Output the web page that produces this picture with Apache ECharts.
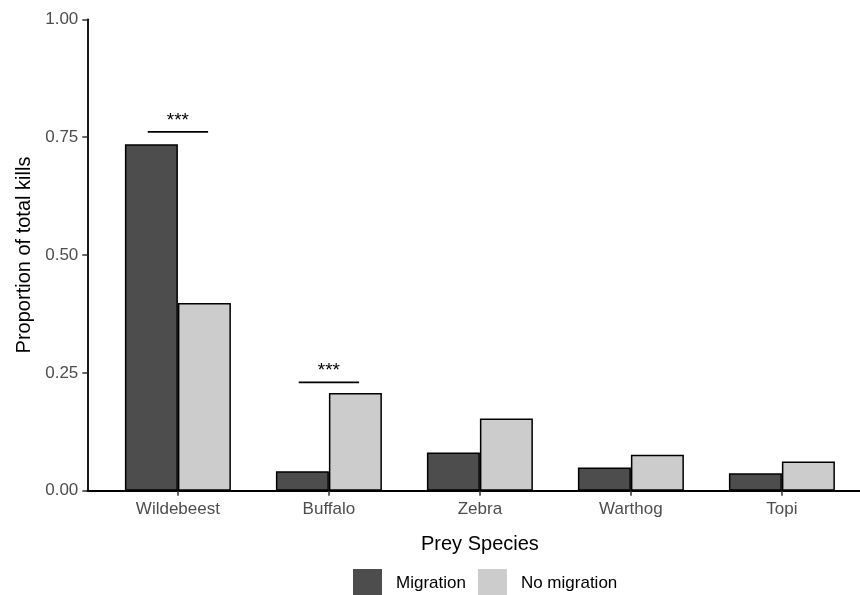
<!DOCTYPE html>
<html>
<head>
<meta charset="utf-8">
<script src="https://cdn.jsdelivr.net/npm/echarts@6/dist/echarts.min.js"></script>
<style>html,body{margin:0;padding:0;background:#fff}#c{width:860px;height:595px}</style>
</head>
<body>
<div id="c"></div>
<script>
const categories = ['Wildebeest', 'Buffalo', 'Zebra', 'Warthog', 'Topi'];
const migration = [0.735, 0.041, 0.081, 0.049, 0.037];
const noMigration = [0.398, 0.207, 0.153, 0.076, 0.062];
const yTicks = [0, 0.25, 0.5, 0.75, 1.0];
const sigCategory = [1, 2];          // 1-based category positions
const sigLevel = [0.761, 0.230];
const sigLabel = ['***', '***'];

const FONT = 'Liberation Sans, Arial, sans-serif';
const chart = echarts.init(document.getElementById('c'), null, {renderer: 'canvas'});
const pos = categories.map((_, i) => i + 1);

chart.setOption({
  animation: false,
  textStyle: {fontFamily: FONT},
  grid: {left: 87.3, top: 19.3, width: 785.2, height: 471.4, containLabel: false, outerBoundsMode: 'none'},
  legend: {
    data: ['Migration', 'No migration'],
    left: 353, top: 569, padding: 0,
    icon: 'rect', itemWidth: 29, itemHeight: 29, itemGap: 12,
    itemStyle: {borderWidth: 0},
    textStyle: {fontFamily: FONT, fontSize: 17, color: '#000', padding: [0, 0, 8, 9]}
  },
  xAxis: {
    type: 'value', min: 0.4, max: 5.6,
    name: 'Prey Species', nameLocation: 'middle', nameGap: 44,
    nameTextStyle: {fontFamily: FONT, fontSize: 20, color: '#000'},
    axisLine: {show: true, lineStyle: {color: '#000', width: 1.8}},
    axisTick: {show: true, customValues: pos, length: 5, lineStyle: {color: '#333', width: 1.5}},
    axisLabel: {customValues: pos, margin: 10, fontSize: 17, color: '#4d4d4d', fontFamily: FONT,
      formatter: v => categories[Math.round(v) - 1] || ''},
    splitLine: {show: false}
  },
  yAxis: {
    type: 'value', min: 0, max: 1, interval: 0.25,
    name: 'Proportion of total kills', nameLocation: 'middle', nameGap: 50, nameRotate: 90,
    nameTextStyle: {fontFamily: FONT, fontSize: 20, color: '#000'},
    axisLine: {show: true, lineStyle: {color: '#000', width: 1.8}},
    axisTick: {show: true, length: 5, lineStyle: {color: '#333', width: 1.5}},
    axisLabel: {margin: 9, fontSize: 17, color: '#4d4d4d', fontFamily: FONT,
      formatter: v => yTicks.includes(v) ? v.toFixed(2) : ''},
    splitLine: {show: false}
  },
  series: [
    {
      name: 'Migration', type: 'bar', barWidth: 53, barGap: '0%',
      itemStyle: {color: '#4d4d4d', borderColor: '#000', borderWidth: 1.5},
      data: migration.map((v, i) => [pos[i], v])
    },
    {
      name: 'No migration', type: 'bar', barWidth: 53, barGap: '0%',
      itemStyle: {color: '#cccccc', borderColor: '#000', borderWidth: 1.5},
      data: noMigration.map((v, i) => [pos[i], v])
    },
    {
      type: 'custom', silent: true, z: 10,
      data: sigCategory.map((c, i) => [c, sigLevel[i], sigLabel[i]]),
      renderItem: (params, api) => {
        const c = api.value(0), y = api.value(1);
        const p1 = api.coord([c - 0.2, y]);
        const p2 = api.coord([c + 0.2, y]);
        const pm = api.coord([c, y]);
        return {
          type: 'group',
          children: [
            {type: 'line', shape: {x1: p1[0], y1: p1[1], x2: p2[0], y2: p2[1]},
             style: {stroke: '#000', lineWidth: 1.8}},
            {type: 'text', x: pm[0], y: pm[1] - 2,
             style: {text: sigLabel[params.dataIndex], fill: '#000', font: '19px ' + FONT,
                     align: 'center', verticalAlign: 'bottom'}}
          ]
        };
      }
    }
  ]
});
</script>
</body>
</html>
